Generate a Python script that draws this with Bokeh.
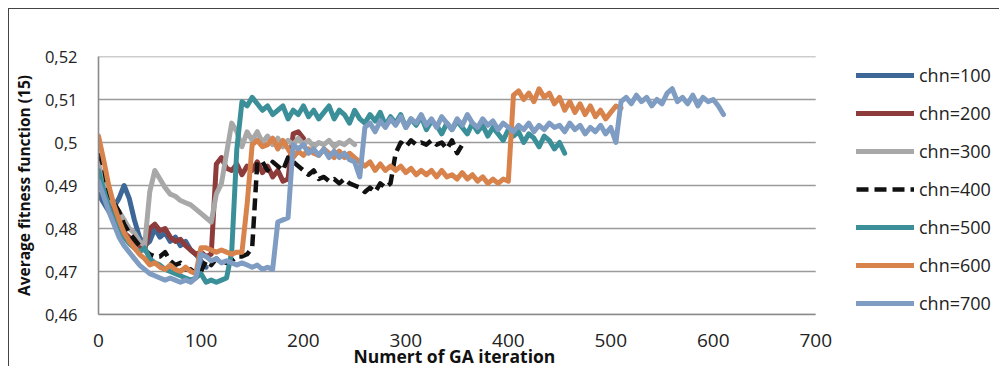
from bokeh.plotting import figure
from bokeh.models import FixedTicker, Legend, LegendItem, Range1d, Title
from bokeh.embed import file_html
from bokeh.resources import INLINE

# ---------------- data ----------------
series_names = ["chn=100", "chn=200", "chn=300", "chn=400", "chn=500", "chn=600", "chn=700"]
series_colors = ["#3C6796", "#8E3B3B", "#A8A8A8", "#111111", "#3A8F99", "#D8834C", "#7F9CC2"]
iter_step = 5  # values below are read every 5 GA iterations

chn100 = [0.488, 0.486, 0.484, 0.485, 0.487, 0.490, 0.487, 0.482, 0.478, 0.476, 0.477,
          0.480, 0.478, 0.479, 0.477, 0.478, 0.476, 0.477, 0.475, 0.474, 0.4725, 0.471]

chn200 = [0.493, 0.489, 0.486, 0.483, 0.481, 0.479, 0.478, 0.477, 0.476, 0.475, 0.480,
          0.481, 0.4795, 0.480, 0.478, 0.477, 0.4775, 0.476, 0.475, 0.474, 0.4745, 0.4735,
          0.474, 0.495, 0.4965, 0.494, 0.4935, 0.495, 0.4925, 0.4945, 0.4935, 0.4955, 0.493,
          0.4945, 0.492, 0.4935, 0.491, 0.4915, 0.502, 0.5025, 0.501]

chn300 = [0.495, 0.491, 0.488, 0.4855, 0.484, 0.482, 0.480, 0.479, 0.477, 0.476, 0.4885,
          0.4935, 0.4915, 0.4895, 0.488, 0.4875, 0.4865, 0.486, 0.4855, 0.4845, 0.4835,
          0.4825, 0.4815, 0.488, 0.4905, 0.4975, 0.5045, 0.5025, 0.4990, 0.5025, 0.5005,
          0.5025, 0.5000, 0.5015, 0.4995, 0.5010, 0.4990, 0.5005, 0.4995, 0.5010, 0.4995,
          0.5005, 0.4990, 0.5000, 0.4995, 0.5005, 0.4990, 0.5000, 0.4995, 0.5005, 0.4995]

chn400 = [0.4975, 0.4945, 0.488, 0.486, 0.484, 0.481, 0.479, 0.4775, 0.476, 0.475, 0.474,
          0.4735, 0.4735, 0.4745, 0.4725, 0.4715, 0.472, 0.4705, 0.4705, 0.4695, 0.470,
          0.4725, 0.4715, 0.473, 0.4725, 0.472, 0.4725, 0.4735, 0.4735, 0.474, 0.4755,
          0.4955, 0.4955, 0.4935, 0.4955, 0.4945, 0.4935, 0.4965, 0.4955, 0.4945, 0.4935,
          0.4925, 0.4935, 0.4915, 0.492, 0.491, 0.4915, 0.4905, 0.4915, 0.4905, 0.490,
          0.4895, 0.4885, 0.4895, 0.4885, 0.4905, 0.4895, 0.4905, 0.4975, 0.500, 0.499,
          0.5005, 0.4995, 0.500, 0.4995, 0.5005, 0.4995, 0.500, 0.4985, 0.5005, 0.4975, 0.4995]

chn500 = [0.4935, 0.489, 0.485, 0.482, 0.480, 0.478, 0.4765, 0.4755, 0.4745, 0.4755, 0.473,
          0.472, 0.4715, 0.4705, 0.470, 0.4695, 0.469, 0.4685, 0.468, 0.4685, 0.4695, 0.4675,
          0.468, 0.4675, 0.468, 0.4685, 0.4745, 0.4985, 0.5095, 0.5085, 0.5105, 0.509, 0.5075,
          0.5085, 0.5065, 0.5075, 0.5085, 0.5055, 0.5075, 0.5065, 0.5085, 0.506, 0.5075,
          0.5055, 0.5070, 0.5085, 0.5055, 0.5075, 0.5065, 0.5045, 0.5075, 0.5055, 0.5045,
          0.5065, 0.5050, 0.5070, 0.5040, 0.5060, 0.5045, 0.5065, 0.5035, 0.5055, 0.5040,
          0.5060, 0.5030, 0.5050, 0.5040, 0.5020, 0.5045, 0.5030, 0.5050, 0.5035, 0.5020,
          0.5045, 0.5025, 0.5040, 0.5015, 0.5035, 0.5020, 0.5005, 0.5030, 0.5015, 0.5025,
          0.5000, 0.5020, 0.5010, 0.4990, 0.5015, 0.5005, 0.4985, 0.5000, 0.4975]

chn600 = [0.5015, 0.496, 0.490, 0.4855, 0.482, 0.479, 0.477, 0.4755, 0.474, 0.473, 0.4715,
          0.472, 0.471, 0.4705, 0.4715, 0.4705, 0.470, 0.471, 0.470, 0.4695, 0.4755, 0.4755,
          0.475, 0.4745, 0.475, 0.4745, 0.474, 0.4745, 0.4745, 0.4855, 0.4995, 0.5005, 0.499,
          0.4995, 0.501, 0.4985, 0.5005, 0.4985, 0.4965, 0.498, 0.497, 0.4985, 0.4975, 0.497,
          0.4985, 0.4975, 0.4965, 0.498, 0.4965, 0.4975, 0.4965, 0.4955, 0.4945, 0.4955,
          0.4935, 0.4950, 0.4935, 0.4945, 0.4935, 0.4945, 0.4930, 0.4940, 0.4925, 0.4935,
          0.4925, 0.4935, 0.4920, 0.4935, 0.4920, 0.4925, 0.4915, 0.4930, 0.4915, 0.4925,
          0.4910, 0.4920, 0.4905, 0.4915, 0.4905, 0.4915, 0.4910, 0.5110, 0.5120, 0.5100,
          0.5115, 0.5095, 0.5125, 0.5105, 0.5115, 0.5090, 0.5105, 0.5075, 0.5095, 0.5070,
          0.5090, 0.5065, 0.5085, 0.5060, 0.5075, 0.5055, 0.5070, 0.5085, 0.5080]

chn700 = [0.491, 0.4875, 0.484, 0.481, 0.478, 0.476, 0.4745, 0.473, 0.4715, 0.4705, 0.4695,
          0.469, 0.4685, 0.468, 0.4685, 0.468, 0.4675, 0.468, 0.4675, 0.4685, 0.474, 0.4735,
          0.4725, 0.473, 0.472, 0.4725, 0.472, 0.4715, 0.472, 0.4715, 0.471, 0.4715, 0.4705,
          0.471, 0.4705, 0.4815, 0.482, 0.4825, 0.4995, 0.4985, 0.4995, 0.4975, 0.4985, 0.497,
          0.4985, 0.4965, 0.498, 0.4965, 0.4975, 0.496, 0.4955, 0.492, 0.5035, 0.5045, 0.5025,
          0.5050, 0.5035, 0.5055, 0.5040, 0.5060, 0.5035, 0.5055, 0.5045, 0.5065, 0.5040,
          0.5055, 0.5035, 0.5060, 0.5045, 0.5030, 0.5055, 0.5040, 0.5065, 0.5045, 0.5035,
          0.5055, 0.5040, 0.5050, 0.5030, 0.5045, 0.5035, 0.5025, 0.5040, 0.5030, 0.5045,
          0.5025, 0.5040, 0.5030, 0.5045, 0.5035, 0.5040, 0.5025, 0.5045, 0.5030, 0.5040,
          0.5020, 0.5035, 0.5025, 0.5040, 0.5020, 0.5035, 0.5000, 0.5095, 0.5105, 0.5090,
          0.5110, 0.5095, 0.5105, 0.5085, 0.5100, 0.5090, 0.5115, 0.5125, 0.5095, 0.5105,
          0.5090, 0.5110, 0.5085, 0.5105, 0.5095, 0.5100, 0.5085, 0.5065]

series_values = [chn100, chn200, chn300, chn400, chn500, chn600, chn700]

x_ticks = [0, 100, 200, 300, 400, 500, 600, 700]
y_ticks = [0.46, 0.47, 0.48, 0.49, 0.50, 0.51, 0.52]
y_tick_labels = ["0,46", "0,47", "0,48", "0,49", "0,5", "0,51", "0,52"]
x_title = "Numert of GA iteration"
y_title = "Average fitness function (15)"

# ---------------- figure ----------------
# The frame is extended to the right edge so that the legend (drawn inside the
# frame, right of x=700) is not clipped; the axis and grid stop at 700.
FRAME_W_AXIS = 718          # px covered by 0..700
FRAME_W_TOTAL = 991 - 88    # px of the whole frame
x_end = x_ticks[-1] * FRAME_W_TOTAL / FRAME_W_AXIS

p = figure(width=991, height=358, output_backend="svg", toolbar_location=None,
           x_range=Range1d(0, x_end), y_range=Range1d(0.46, 0.52),
           min_border_left=88, min_border_right=0, min_border_top=47, min_border_bottom=53,
           background_fill_color="white", border_fill_color="white")
p.styles = {"margin-left": "8px", "margin-top": "8px",
            "border-top": "1px solid #444444", "border-left": "1px solid #444444"}
p.outline_line_color = None

p.xgrid.grid_line_color = None
p.ygrid.grid_line_color = None

# horizontal gridlines, limited to the 0..700 axis span
p.multi_line(xs=[[x_ticks[0], x_ticks[-1]] for _ in y_ticks],
             ys=[[t, t] for t in y_ticks],
             line_color="#9a9a9a", line_width=1.6)

p.xaxis.ticker = FixedTicker(ticks=x_ticks)
p.xaxis.bounds = (x_ticks[0], x_ticks[-1])
p.yaxis.ticker = FixedTicker(ticks=y_ticks)
p.yaxis.major_label_overrides = {t: l for t, l in zip(y_ticks, y_tick_labels)}

for ax in (p.xaxis[0], p.yaxis[0]):
    ax.axis_line_color = "#8a8a8a"
    ax.axis_line_width = 1.6
    ax.major_tick_line_color = None
    ax.minor_tick_line_color = None
    ax.major_tick_out = 0
    ax.major_tick_in = 0
    ax.major_label_text_font = "Open Sans"
    ax.major_label_text_color = "#222222"
    ax.axis_label_text_font = "Open Sans"
    ax.axis_label_text_font_style = "bold"
    ax.axis_label_text_font_size = "15.5px"
    ax.axis_label_text_color = "#111111"

p.xaxis.major_label_text_font_size = "19px"
p.yaxis.major_label_text_font_size = "16.5px"
p.xaxis.major_label_standoff = 19
p.yaxis.major_label_standoff = 21
p.yaxis.axis_label = y_title
p.yaxis.axis_label_standoff = 7

# x-axis title, centred under the 0..700 span (not under the extended frame)
p.add_layout(Title(text=x_title, align="left", offset=255, standoff=-15,
                   text_font="Open Sans", text_font_style="bold",
                   text_font_size="17.5px", text_color="#111111"), "below")

items = []
for name, color, vals in zip(series_names, series_colors, series_values):
    xs = [i * iter_step for i in range(len(vals))]
    if name == "chn=400":
        r = p.line(xs, vals, line_color=color, line_width=4.5, line_dash="12 6", line_join="round")
    else:
        r = p.line(xs, vals, line_color=color, line_width=5, line_join="round", line_cap="round")
    items.append(LegendItem(label=name, renderers=[r]))

legend = Legend(items=items, location=(758, -1), orientation="vertical",
                glyph_width=58, glyph_height=20, label_height=20, label_standoff=5,
                spacing=14, padding=0, margin=0,
                label_text_font="Open Sans", label_text_font_size="18px",
                label_text_color="#222222",
                border_line_color=None, background_fill_alpha=0)
p.add_layout(legend, "center")

open("out.html", "w").write(file_html(p, INLINE))
